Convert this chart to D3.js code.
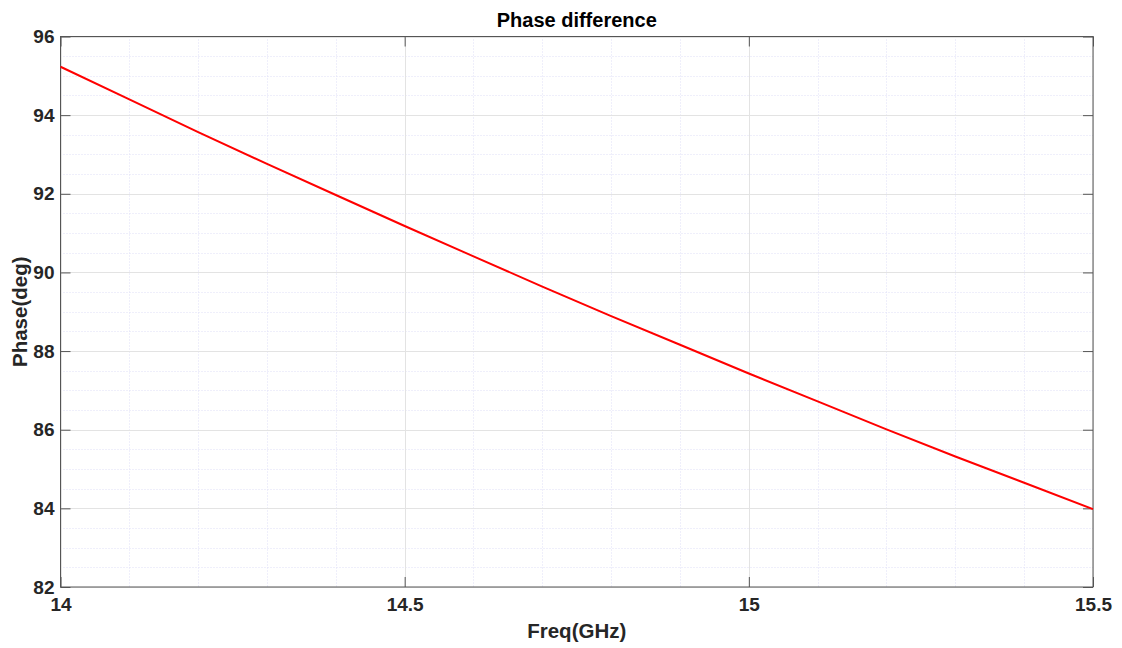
<!DOCTYPE html>
<html>
<head>
<meta charset="utf-8">
<script src="https://cdn.jsdelivr.net/npm/d3@7"></script>
<style>
  body { margin: 0; background: #fff; }
  text { font-family: "Liberation Sans", Arial, sans-serif; font-weight: bold; fill: #262626; }
</style>
</head>
<body>
<svg width="1122" height="648"></svg>
<script>
// data
var freq = [14.0, 14.1, 14.2, 14.3, 14.4, 14.5, 14.6, 14.7, 14.8, 14.9, 15.0, 15.1, 15.2, 15.3, 15.4, 15.5];
var phase = [95.23, 94.40, 93.57, 92.76, 91.97, 91.18, 90.41, 89.64, 88.89, 88.16, 87.43, 86.72, 86.01, 85.32, 84.65, 83.98];
var xTicks = [14, 14.5, 15, 15.5];
var yTicks = [82, 84, 86, 88, 90, 92, 94, 96];
var xMinor = d3.range(14, 15.5001, 0.1);
var yMinor = d3.range(82, 96.001, 0.5);

var margin = { left: 60.5, right: 1093, top: 36.5, bottom: 587 };
var svg = d3.select('svg');

var x = d3.scaleLinear().domain([14, 15.5]).range([margin.left, margin.right]);
var y = d3.scaleLinear().domain([82, 96]).range([margin.bottom, margin.top]);

// minor grid
svg.append('g').selectAll('line')
  .data(xMinor)
  .enter().append('line')
  .attr('x1', function(d) { return Math.round(x(d)) + 0.5; })
  .attr('x2', function(d) { return Math.round(x(d)) + 0.5; })
  .attr('y1', margin.top).attr('y2', margin.bottom)
  .style('stroke', '#dedef7').style('stroke-dasharray', '1,2');
svg.append('g').selectAll('line')
  .data(yMinor)
  .enter().append('line')
  .attr('y1', function(d) { return Math.round(y(d)) + 0.5; })
  .attr('y2', function(d) { return Math.round(y(d)) + 0.5; })
  .attr('x1', margin.left).attr('x2', margin.right)
  .style('stroke', '#dedef7').style('stroke-dasharray', '1,2');

// major grid
svg.append('g').selectAll('line')
  .data(xTicks)
  .enter().append('line')
  .attr('x1', function(d) { return Math.round(x(d)) + 0.5; })
  .attr('x2', function(d) { return Math.round(x(d)) + 0.5; })
  .attr('y1', margin.top).attr('y2', margin.bottom)
  .style('stroke', '#e3e3e3');
svg.append('g').selectAll('line')
  .data(yTicks)
  .enter().append('line')
  .attr('y1', function(d) { return Math.round(y(d)) + 0.5; })
  .attr('y2', function(d) { return Math.round(y(d)) + 0.5; })
  .attr('x1', margin.left).attr('x2', margin.right)
  .style('stroke', '#e3e3e3');

// axes (ticks inside, box all round)
var h = margin.bottom - margin.top, w = margin.right - margin.left;
function styleAxis(g) {
  g.select('.domain').remove();
  g.selectAll('.tick line').style('stroke', '#555');
  g.selectAll('.tick text').style('font-size', '19px').style('font-family', '"Liberation Sans", Arial, sans-serif')
    .style('font-weight', 'bold').style('fill', '#262626');
}
svg.append('g')
  .attr('transform', 'translate(0,' + margin.bottom + ')')
  .call(d3.axisBottom(x).tickValues(xTicks).tickSize(-10).tickPadding(11).tickFormat(d3.format('')))
  .call(styleAxis);
svg.append('g')
  .attr('transform', 'translate(0,' + margin.top + ')')
  .call(d3.axisTop(x).tickValues(xTicks).tickSize(-10).tickFormat(''))
  .call(styleAxis);
svg.append('g')
  .attr('transform', 'translate(' + margin.left + ',0)')
  .call(d3.axisLeft(y).tickValues(yTicks).tickSize(-10).tickPadding(6).tickFormat(d3.format('')))
  .call(styleAxis);
svg.append('g')
  .attr('transform', 'translate(' + margin.right + ',0)')
  .call(d3.axisRight(y).tickValues(yTicks).tickSize(-10).tickFormat(''))
  .call(styleAxis);

svg.append('rect')
  .attr('x', margin.left).attr('y', margin.top)
  .attr('width', w).attr('height', h)
  .style('fill', 'none').style('stroke', '#555');

// the line
var line = d3.line()
  .x(function(d, i) { return x(freq[i]); })
  .y(function(d) { return y(d); });
svg.append('path')
  .datum(phase)
  .attr('d', line)
  .style('fill', 'none').style('stroke', '#ff0000').style('stroke-width', 2);

// labels
svg.append('text')
  .attr('x', (margin.left + margin.right) / 2).attr('y', 27)
  .attr('text-anchor', 'middle').style('font-size', '20px').style('fill', '#000')
  .text('Phase difference');
svg.append('text')
  .attr('x', (margin.left + margin.right) / 2).attr('y', 638)
  .attr('text-anchor', 'middle').style('font-size', '20.5px')
  .text('Freq(GHz)');
svg.append('text')
  .attr('transform', 'translate(27,' + ((margin.top + margin.bottom) / 2) + ') rotate(-90)')
  .attr('text-anchor', 'middle').style('font-size', '20.5px')
  .text('Phase(deg)');
</script>
</body>
</html>
